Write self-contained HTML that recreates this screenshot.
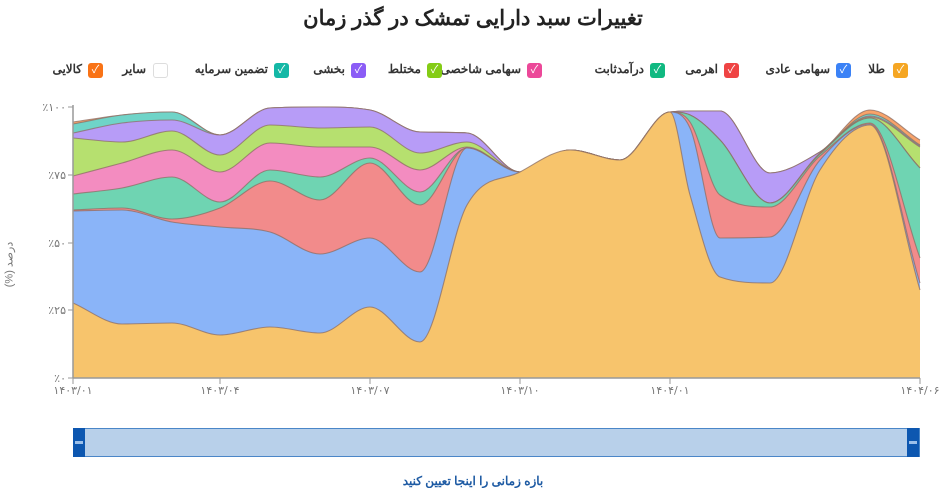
<!DOCTYPE html>
<html><head><meta charset="utf-8">
<style>
body{margin:0;width:946px;height:488px;background:#fff;overflow:hidden;font-family:"Liberation Sans","Noto Sans CJK SC",sans-serif;position:relative}
.t{position:absolute;white-space:nowrap}
.box{position:absolute;width:15px;height:15px;border-radius:3px;top:63px;color:#fff;font-size:11px;line-height:15px;text-align:center}
.lbl{position:absolute;top:62px;font-size:12px;font-weight:bold;color:#333;white-space:nowrap;direction:rtl}
</style></head><body>
<div class="t" style="left:0;width:946px;text-align:center;top:6px;font-size:21px;font-weight:bold;color:#222;direction:rtl">تغییرات سبد دارایی تمشک در گذر زمان</div>

<div class="box" style="left:893px;background:#f5a623">✓</div><div class="lbl" style="right:61px">طلا</div>
<div class="box" style="left:836px;background:#3b82f6">✓</div><div class="lbl" style="right:116px">سهامی عادی</div>
<div class="box" style="left:724px;background:#ef4444">✓</div><div class="lbl" style="right:228px">اهرمی</div>
<div class="box" style="left:650px;background:#10b981">✓</div><div class="lbl" style="right:302px">درآمدثابت</div>
<div class="box" style="left:527px;background:#ec4899">✓</div><div class="lbl" style="right:425px">سهامی شاخصی</div>
<div class="box" style="left:427px;background:#84cc16">✓</div><div class="lbl" style="right:525px">مختلط</div>
<div class="box" style="left:351px;background:#8b5cf6">✓</div><div class="lbl" style="right:601px">بخشی</div>
<div class="box" style="left:274px;background:#14b8a6">✓</div><div class="lbl" style="right:678px">تضمین سرمایه</div>
<div class="box" style="left:153px;background:#fff;border:1px solid #ddd;width:13px;height:13px"></div><div class="lbl" style="right:800px">سایر</div>
<div class="box" style="left:88px;background:#f97316">✓</div><div class="lbl" style="right:864px">کالایی</div>

<svg id="s" width="946" height="488" style="position:absolute;left:0;top:0"></svg>

<div class="t" style="top:258px;transform:rotate(-90deg);transform-origin:center;font-size:11px;color:#777;width:60px;text-align:center;left:-21px;direction:rtl">درصد (%)</div>

<div style="position:absolute;left:73px;top:428px;width:845px;height:27px;background:#b8d0ea;border:1px solid #4a86c8"></div>
<div style="position:absolute;left:73px;top:428px;width:12px;height:29px;background:#0d57b0"><div style="position:absolute;left:2px;top:13px;width:8px;height:3px;background:#9cc0ea"></div></div>
<div style="position:absolute;left:907px;top:428px;width:12px;height:29px;background:#0d57b0"><div style="position:absolute;left:2px;top:13px;width:8px;height:3px;background:#9cc0ea"></div></div>
<div class="t" style="left:0;width:946px;text-align:center;top:474px;font-size:12px;font-weight:bold;color:#1d5aa3;direction:rtl">بازه زمانی را اینجا تعیین کنید</div>

<script>
var X=[73,122,172,220,270,320,370,420,467,520,570,620,670,690,720,770,820,870,920];
var L=[
["#f8a36a",[122,115,112,135,108,107,110,132,133,172,150,160,112,111,111,173,152,110,140]],
["#6fd4c8",[124,115,112,135,108,107,110,132,133,172,150,160,112,111,111,173,152,114,145]],
["#b79cf7",[133,123,120,135,108,107,110,132,133,172,150,160,112,111,111,173,152,116,146]],
["#b6e06f",[138,142,131,155,125,128,127,153,142,172,150,160,112,115,140,203,153,117,147]],
["#f38cc0",[176,163,150,172,143,147,147,170,147,172,150,160,112,115,140,203,154,118,168]],
["#6fd4b2",[194,188,177,202,170,177,158,192,148,172,150,160,112,115,140,203,154,118,168]],
["#f28b8b",[210,208,219,208,181,200,163,205,148,172,150,160,112,122,195,207,156,123,258]],
["#8ab4f8",[211,210,222,227,232,254,238,272,148,172,150,160,112,128,238,237,160,124,283]],
["#f7c46c",[303,324,323,335,327,333,307,342,205,172,150,160,112,195,277,283,170,125,290]]
];
function mono(xs,ys){var n=xs.length,d=[],m=[];for(var i=0;i<n-1;i++)d.push((ys[i+1]-ys[i])/(xs[i+1]-xs[i]));
m[0]=d[0];m[n-1]=d[n-2];for(i=1;i<n-1;i++){m[i]=(d[i-1]*d[i]<=0)?0:(d[i-1]+d[i])/2;}
for(i=0;i<n-1;i++){if(d[i]==0){m[i]=0;m[i+1]=0;continue;}var a=m[i]/d[i],b=m[i+1]/d[i],h=a*a+b*b;if(h>9){var t=3/Math.sqrt(h);m[i]=t*a*d[i];m[i+1]=t*b*d[i];}}
var p="M"+xs[0]+","+ys[0];for(i=0;i<n-1;i++){var dx=(xs[i+1]-xs[i])/3;p+="C"+(xs[i]+dx)+","+(ys[i]+m[i]*dx)+" "+(xs[i+1]-dx)+","+(ys[i+1]-m[i+1]*dx)+" "+xs[i+1]+","+ys[i+1];}return p;}
var s="";
L.forEach(function(l){var p=mono(X,l[1]);s+='<path d="'+p+'L920,378L73,378Z" fill="'+l[0]+'" stroke="none"/>';s+='<path d="'+p+'" fill="none" stroke="rgba(140,110,100,0.75)" stroke-width="1.1"/>';});
s+='<line x1="73" y1="105" x2="73" y2="378" stroke="#999" stroke-width="1.5"/><line x1="73" y1="378" x2="920" y2="378" stroke="#999" stroke-width="1.5"/>';
var yl=[["٪۱۰۰",107],["٪۷۵",175],["٪۵۰",243],["٪۲۵",310],["٪۰",378]];
yl.forEach(function(a){s+='<line x1="68" y1="'+a[1]+'" x2="73" y2="'+a[1]+'" stroke="#999"/><text x="66" y="'+(a[1]+4)+'" font-size="11" fill="#777" text-anchor="end" font-family="Liberation Sans,DejaVu Sans,sans-serif">'+a[0]+'</text>';});
var xl=[["۱۴۰۳/۰۱",73],["۱۴۰۳/۰۴",220],["۱۴۰۳/۰۷",370],["۱۴۰۳/۱۰",520],["۱۴۰۴/۰۱",670],["۱۴۰۴/۰۶",920]];
xl.forEach(function(a){s+='<line x1="'+a[1]+'" y1="378" x2="'+a[1]+'" y2="384" stroke="#999"/><text x="'+a[1]+'" y="394" font-size="11" fill="#777" text-anchor="middle" font-family="DejaVu Sans,sans-serif">'+a[0]+'</text>';});
document.getElementById("s").innerHTML=s;
</script>
</body></html>
